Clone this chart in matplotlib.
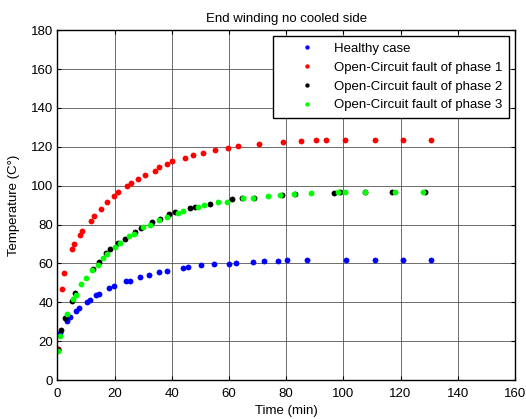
import matplotlib
matplotlib.use("Agg")
import matplotlib.pyplot as plt

plt.rcParams['font.family'] = ['Liberation Sans', 'DejaVu Sans']

# Healthy case
t_healthy = [0.35, 0.9, 3.3, 4.4, 6.5, 7.7, 10.3, 11.4, 13.5, 14.5, 17.9, 19.8, 24.1, 25.4,
             28.9, 31.9, 35.6, 38.2, 43.8, 45.6, 50.4, 54.7, 60.0, 62.5, 68.4, 72.4, 77.2,
             80.2, 87.2, 100.8, 111.0, 120.9, 130.8]
T_healthy = [16.0, 24.0, 30.3, 32.4, 35.5, 37.2, 40.1, 41.3, 43.9, 44.4, 47.1, 48.2, 50.7, 51.2,
             53.0, 53.8, 55.5, 56.0, 57.7, 58.1, 59.1, 59.6, 59.6, 60.2, 60.7, 61.3, 61.3,
             61.8, 61.8, 61.8, 61.8, 61.8, 61.8]

# Open-circuit fault of phase 1
t_ph1 = [0.35, 1.75, 2.4, 5.0, 5.8, 8.0, 8.7, 11.7, 12.8, 15.4, 17.2, 19.8, 21.3, 24.2, 25.6,
         28.3, 30.6, 34.2, 35.6, 38.4, 40.0, 44.5, 47.5, 51.1, 55.1, 59.8, 63.2, 70.5, 78.9,
         85.2, 90.3, 93.8, 100.7, 111.0, 120.9, 130.8]
T_ph1 = [16.0, 47.0, 55.0, 67.2, 69.8, 74.6, 76.5, 82.0, 84.5, 87.8, 91.4, 94.6, 96.7, 99.9, 101.5,
         103.5, 105.6, 107.8, 109.4, 111.0, 112.5, 114.0, 115.7, 116.8, 118.3, 119.5, 120.4, 121.6,
         122.6, 122.9, 123.3, 123.3, 123.3, 123.3, 123.3, 123.3]

# Open-circuit fault of phase 2
t_ph2 = [0.35, 1.2, 2.7, 5.0, 6.2, 12.4, 14.5, 16.9, 18.5, 21.2, 23.5, 27.2, 29.3, 33.1, 35.9,
         39.1, 41.0, 46.3, 48.2, 53.3, 61.0, 64.6, 68.7, 78.4, 83.0, 96.6, 98.7, 107.4, 117.0,
         128.5]
T_ph2 = [15.5, 25.5, 31.7, 40.8, 44.6, 57.1, 60.5, 65.4, 67.2, 70.4, 72.8, 76.1, 78.0, 81.4, 82.8,
         85.3, 86.2, 88.3, 88.8, 90.8, 92.9, 93.4, 93.9, 95.0, 95.6, 96.3, 96.5, 96.5, 96.5,
         96.5]

# Open-circuit fault of phase 3
t_ph3 = [0.35, 0.9, 3.5, 5.4, 6.5, 8.4, 9.9, 12.1, 14.1, 16.1, 17.5, 20.1, 22.0, 25.1, 26.8,
         30.0, 32.4, 35.5, 38.2, 42.1, 44.0, 49.1, 51.3, 56.2, 59.3, 64.9, 68.4, 73.8, 77.7,
         82.9, 88.6, 98.1, 100.5, 107.5, 117.9, 128.0]
T_ph3 = [15.0, 22.8, 33.9, 41.6, 44.0, 49.2, 52.3, 56.7, 59.3, 62.9, 64.9, 68.2, 70.3, 74.0, 74.9,
         78.7, 79.7, 82.4, 84.0, 86.0, 87.0, 89.1, 89.8, 91.4, 91.7, 93.4, 93.9, 94.6, 95.0,
         95.6, 96.1, 96.7, 96.7, 96.7, 96.7, 96.7]

fs = 9.5

fig = plt.figure(figsize=(5.26, 4.19), dpi=100)
ax = fig.add_axes([0.109, 0.093, 0.870, 0.835])

ms = 4.2
ax.plot(t_healthy, T_healthy, 'o', color='#0000ff', ms=ms, mew=0, label='Healthy case')
ax.plot(t_ph1, T_ph1, 'o', color='#ff0000', ms=ms, mew=0, label='Open-Circuit fault of phase 1')
ax.plot(t_ph2, T_ph2, 'o', color='#000000', ms=ms, mew=0, label='Open-Circuit fault of phase 2')
ax.plot(t_ph3, T_ph3, 'o', color='#00ff00', ms=ms, mew=0, label='Open-Circuit fault of phase 3')

ax.set_xlim(0, 160)
ax.set_ylim(0, 180)
ax.set_xticks(range(0, 161, 20))
ax.set_yticks(range(0, 181, 20))
ax.grid(True, color='#555555', linewidth=0.6)
ax.tick_params(direction='in', top=True, right=True, labelsize=fs, length=3)
ax.tick_params(axis='x', pad=6)
ax.tick_params(axis='y', pad=3)
for s in ax.spines.values():
    s.set_linewidth(1.0)

ax.set_xlabel('Time (min)', fontsize=fs, labelpad=3)
ax.set_ylabel('Temperature (C°)', fontsize=fs, labelpad=8)
ax.set_title('End winding no cooled side', fontsize=fs, pad=6)

leg = ax.legend(loc='upper right', fontsize=fs, fancybox=False, framealpha=1,
                edgecolor='black', markerscale=0.75, borderaxespad=0.45,
                borderpad=0.5, handlelength=4.15, handletextpad=0.0, labelspacing=0.5)
leg.get_frame().set_linewidth(1.0)

fig.savefig('out.png', dpi=100)
